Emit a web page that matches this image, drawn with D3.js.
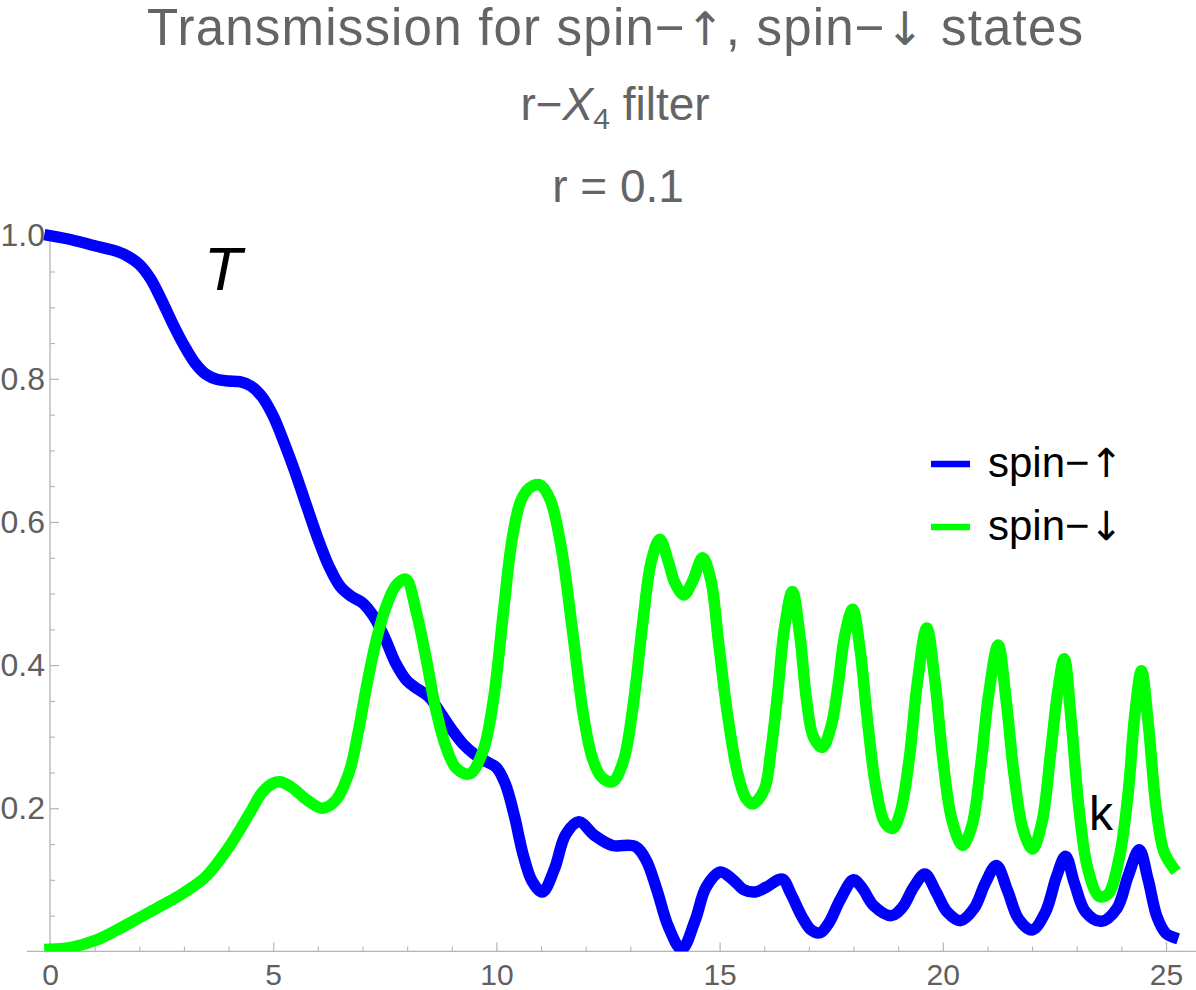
<!DOCTYPE html>
<html>
<head>
<meta charset="utf-8">
<script src="https://cdn.jsdelivr.net/npm/d3@7"></script>
<style>
  html, body { margin: 0; padding: 0; background: #fff; }
  svg { display: block; }
  text { font-family: "Liberation Sans", Arial, Helvetica, sans-serif; }
</style>
</head>
<body>
<svg id="chart" width="1196" height="990"></svg>
<script>
// ---- data ----
const kUp = [0,0.5,1.0,1.5,1.75,2.0,2.25,2.5,2.75,3.0,3.25,3.5,3.75,4.0,4.25,4.5,4.75,5.0,5.25,5.5,5.75,6.0,6.25,6.5,6.75,7.0,7.25,7.5,7.75,8.0,8.25,8.5,8.75,9.0,9.25,9.5,9.75,10.0,10.2,10.4,10.6,10.8,11.03,11.3,11.55,11.85,12.2,12.6,13.1,13.35,13.6,13.85,14.15,14.45,14.7,15.02,15.3,15.55,15.8,16.05,16.4,16.6,16.85,17.05,17.25,17.45,17.7,18.0,18.2,18.45,18.85,19.1,19.35,19.6,19.85,20.1,20.4,20.7,20.95,21.2,21.45,21.7,22.0,22.3,22.55,22.75,22.95,23.2,23.55,23.9,24.15,24.4,24.6,24.8,25.0,25.15];
const tUp = [1.0,0.994,0.986,0.978,0.971,0.96,0.94,0.91,0.877,0.847,0.822,0.806,0.799,0.797,0.796,0.79,0.775,0.748,0.71,0.668,0.622,0.577,0.538,0.51,0.496,0.487,0.468,0.438,0.402,0.378,0.366,0.355,0.333,0.31,0.29,0.276,0.266,0.257,0.234,0.19,0.135,0.098,0.083,0.115,0.163,0.181,0.162,0.148,0.147,0.128,0.085,0.035,0.003,0.043,0.09,0.111,0.1,0.086,0.083,0.09,0.101,0.08,0.048,0.03,0.026,0.04,0.072,0.1,0.088,0.064,0.05,0.062,0.09,0.108,0.083,0.055,0.043,0.06,0.095,0.12,0.085,0.045,0.03,0.055,0.105,0.133,0.095,0.055,0.042,0.06,0.105,0.142,0.1,0.048,0.025,0.02];

const kDown = [0,0.5,1.0,1.5,2.0,2.5,3.0,3.5,4.0,4.5,4.75,5.0,5.15,5.4,5.75,6.1,6.4,6.7,6.9,7.1,7.31,7.53,7.76,7.97,8.21,8.43,8.65,8.88,9.1,9.4,9.7,9.93,10.15,10.35,10.55,10.75,10.97,11.2,11.45,11.7,11.95,12.15,12.35,12.6,12.84,13.06,13.28,13.47,13.66,13.85,14.0,14.2,14.4,14.62,14.8,14.98,15.18,15.4,15.58,15.74,16.0,16.15,16.3,16.45,16.63,16.8,16.95,17.1,17.3,17.5,17.65,17.8,17.98,18.15,18.3,18.5,18.7,18.88,19.05,19.25,19.42,19.64,19.82,20.0,20.2,20.44,20.65,20.85,21.03,21.24,21.42,21.6,21.8,22.01,22.22,22.42,22.58,22.72,22.88,23.05,23.25,23.5,23.7,23.95,24.15,24.3,24.45,24.6,24.78,24.95,25.15];
const tDown = [0.003,0.006,0.015,0.03,0.047,0.064,0.082,0.105,0.145,0.196,0.222,0.235,0.237,0.23,0.212,0.2,0.211,0.25,0.305,0.373,0.435,0.482,0.512,0.52,0.473,0.408,0.336,0.284,0.256,0.248,0.28,0.35,0.47,0.575,0.63,0.648,0.652,0.632,0.565,0.45,0.33,0.27,0.244,0.237,0.265,0.342,0.46,0.545,0.576,0.545,0.515,0.498,0.518,0.55,0.52,0.43,0.33,0.25,0.215,0.206,0.226,0.28,0.36,0.45,0.503,0.44,0.35,0.3,0.285,0.315,0.37,0.44,0.478,0.42,0.33,0.23,0.18,0.172,0.195,0.27,0.37,0.452,0.38,0.27,0.185,0.148,0.175,0.26,0.36,0.428,0.35,0.245,0.17,0.143,0.18,0.28,0.365,0.409,0.32,0.2,0.115,0.077,0.08,0.13,0.22,0.33,0.392,0.32,0.2,0.14,0.118];

const xMajorTicks = [0,5,10,15,20,25];
const xMinorTicks = [1,2,3,4,6,7,8,9,11,12,13,14,16,17,18,19,21,22,23,24];
const yMajorTicks = [0.2,0.4,0.6,0.8,1.0];
const yMinorTicks = [0.05,0.1,0.15,0.25,0.3,0.35,0.45,0.5,0.55,0.65,0.7,0.75,0.85,0.9,0.95];

const titleLine1 = ["Transmission for spin\u2212", "\u2191", ", spin\u2212", "\u2193", " states"];
const titleLine2 = ["r\u2212", "X", "4", " filter"];
const titleLine3 = "r = 0.1";
const seriesNames = [["spin\u2212", "\u2191"], ["spin\u2212", "\u2193"]];
const seriesColors = ["#0000ff", "#00ff00"];

// ---- layout ----
const svg = d3.select("#chart");
const x = d3.scaleLinear().domain([0, 25]).range([50, 1166]);
const y = d3.scaleLinear().domain([0, 1]).range([951.4, 235.7]);
const axisColor = "#b4b4b4";
const labelColor = "#5f5f5f";
const arrowFont = "'DejaVu Sans', sans-serif";

svg.append("defs").append("clipPath").attr("id", "clip")
  .append("rect")
  .attr("x", 0).attr("y", 200)
  .attr("width", 1196).attr("height", y(0) - 200);

// axes lines
svg.append("line")
  .attr("x1", x(-0.52)).attr("x2", 1196)
  .attr("y1", y(0)).attr("y2", y(0))
  .attr("stroke", axisColor).attr("stroke-width", 1.3);
svg.append("line")
  .attr("x1", x(0)).attr("x2", x(0))
  .attr("y1", y(1.008)).attr("y2", y(0))
  .attr("stroke", axisColor).attr("stroke-width", 1.3);

// x axis
const gx = svg.append("g").attr("transform", `translate(0,${y(0)})`)
  .call(d3.axisBottom(x).tickValues(xMajorTicks).tickSize(-9).tickPadding(12).tickFormat(d3.format("d")));
gx.select(".domain").remove();
gx.selectAll(".tick line").attr("stroke", axisColor).attr("stroke-width", 1.2);
gx.selectAll(".tick text").attr("fill", labelColor).attr("font-size", 30)
  .attr("font-family", "'Liberation Sans', Arial, sans-serif");

const gxm = svg.append("g").attr("transform", `translate(0,${y(0)})`)
  .call(d3.axisBottom(x).tickValues(xMinorTicks).tickSize(-5).tickFormat(""));
gxm.select(".domain").remove();
gxm.selectAll(".tick line").attr("stroke", axisColor).attr("stroke-width", 1.1);

// y axis
const gy = svg.append("g").attr("transform", `translate(${x(0)},0)`)
  .call(d3.axisLeft(y).tickValues(yMajorTicks).tickSize(-9).tickPadding(5).tickFormat(d3.format(".1f")));
gy.select(".domain").remove();
gy.selectAll(".tick line").attr("stroke", axisColor).attr("stroke-width", 1.2);
gy.selectAll(".tick text").attr("fill", labelColor).attr("font-size", 32)
  .attr("font-family", "'Liberation Sans', Arial, sans-serif");

const gym = svg.append("g").attr("transform", `translate(${x(0)},0)`)
  .call(d3.axisLeft(y).tickValues(yMinorTicks).tickSize(-5).tickFormat(""));
gym.select(".domain").remove();
gym.selectAll(".tick line").attr("stroke", axisColor).attr("stroke-width", 1.1);

// curves
const line = d3.line().x(d => x(d[0])).y(d => y(d[1])).curve(d3.curveCatmullRom.alpha(0.5));
const upData = kUp.map((k, i) => [k, tUp[i]]);
const downData = kDown.map((k, i) => [k, tDown[i]]);

const plot = svg.append("g").attr("clip-path", "url(#clip)");
plot.append("path").datum(upData)
  .attr("d", line).attr("fill", "none")
  .attr("stroke", seriesColors[0]).attr("stroke-width", 11.5)
  .attr("stroke-linecap", "square").attr("stroke-linejoin", "round");
plot.append("path").datum(downData)
  .attr("d", line).attr("fill", "none")
  .attr("stroke", seriesColors[1]).attr("stroke-width", 11.5)
  .attr("stroke-linecap", "square").attr("stroke-linejoin", "round");

// axes labels
svg.append("text").attr("x", 204).attr("y", 290)
  .attr("font-size", 62).attr("font-style", "italic").attr("fill", "#000")
  .text("T");
svg.append("text").attr("x", 1089).attr("y", 830)
  .attr("font-size", 48).attr("fill", "#000")
  .text("k");

// title
const titleColor = "#646464";
const tcx = 615;
const t1 = svg.append("text").attr("x", tcx).attr("y", 45).attr("text-anchor", "middle")
  .attr("font-size", 51).attr("fill", titleColor)
  .attr("textLength", 936).attr("lengthAdjust", "spacing");
titleLine1.forEach((s, i) => {
  const ts = t1.append("tspan").text(s);
  if (i === 1 || i === 3) ts.attr("font-family", arrowFont).attr("font-size", 46);
});
const t2 = svg.append("text").attr("x", tcx).attr("y", 120).attr("text-anchor", "middle")
  .attr("font-size", 46).attr("fill", titleColor);
t2.append("tspan").text(titleLine2[0]);
t2.append("tspan").attr("font-style", "italic").text(titleLine2[1]);
t2.append("tspan").attr("font-size", 30).attr("dy", 9).text(titleLine2[2]);
t2.append("tspan").attr("dy", -9).text(titleLine2[3]);
svg.append("text").attr("x", tcx + 3).attr("y", 202).attr("text-anchor", "middle")
  .attr("font-size", 46).attr("fill", titleColor).text(titleLine3);

// legend
const lg = svg.append("g");
seriesNames.forEach((name, i) => {
  const yy = 464 + i * 63;
  lg.append("line").attr("x1", 931).attr("x2", 970).attr("y1", yy).attr("y2", yy)
    .attr("stroke", seriesColors[i]).attr("stroke-width", 6.5);
  const tx = lg.append("text").attr("x", 988).attr("y", yy + 13)
    .attr("font-size", 42).attr("fill", "#000");
  tx.append("tspan").text(name[0]);
  tx.append("tspan").attr("font-family", arrowFont).attr("font-size", 40).text(name[1]);
});
</script>
</body>
</html>
